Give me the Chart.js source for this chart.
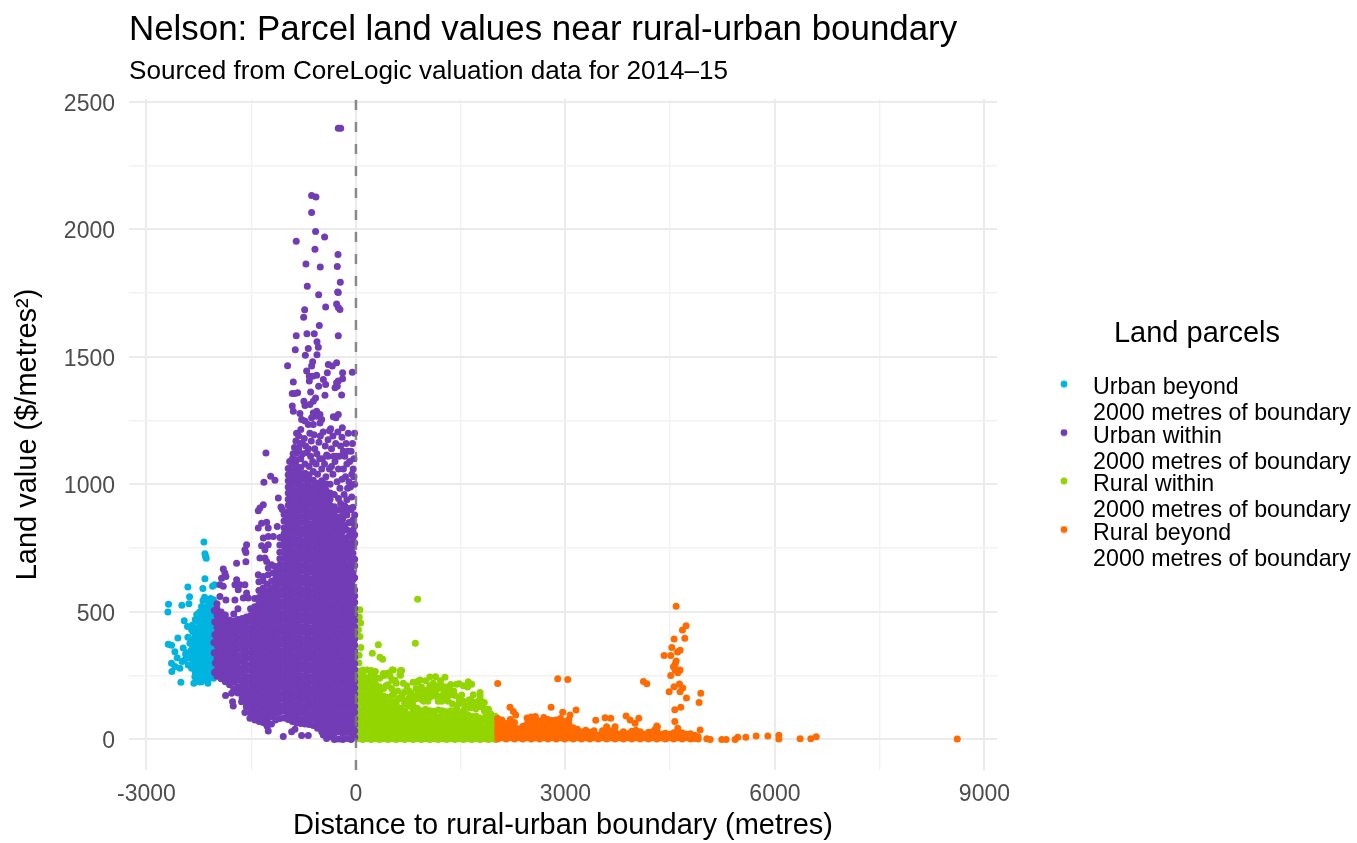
<!DOCTYPE html>
<html><head><meta charset="utf-8">
<style>html,body{margin:0;padding:0;background:#fff}canvas{display:block;filter:blur(0.6px)}</style>
<script src="https://cdn.jsdelivr.net/npm/chart.js@4"></script>
</head><body><div style="width:1357px;height:843px"><canvas id="c" width="1357" height="843"></canvas></div>
<script>
const titleText="Nelson: Parcel land values near rural-urban boundary";
const subtitleText="Sourced from CoreLogic valuation data for 2014–15";
const xTicks=[-3000,-1500,0,1500,3000,4500,6000,7500,9000];
const xLabels=[-3000,0,3000,6000,9000];
const yTicks=[0,250,500,750,1000,1250,1500,1750,2000,2250,2500];
const yLabels=[0,500,1000,1500,2000,2500];
const boundaryX=[0,0];
const boundaryY=[-120,2511];

// dense parts: [x, [values at about that x]]
const urbanBeyondColumns=[
[-2340,[300,322,346,370,392]],
[-2300,[262,286,310,334,358,382,406,430]],
[-2260,[246,270,294,318,342,366,390,414,438,462]],
[-2210,[240,262,286,310,334,358,382,406,430,454,478,502,521]],
[-2170,[250,274,298,322,346,370,394,418,442,466,490,514]],
[-2125,[233,258,282,306,330,354,378,402,426,450,474,498,522,545]],
[-2080,[244,268,292,316,340,364,388,412,436,460,484,508,532,552]],
[-2040,[240,262,286,310,334,358,382,406,430,454,478,502,526,548]]
];
const urbanBeyondPoints=[[-2177,774],[-2163,728],[-2154,718],[-2144,710],[-2163,630],[-2407,598],[-2192,592],[-2053,600],[-2025,606],[-2383,559],[-2168,557],[-2392,532],[-2493,526],[-2684,530],[-2693,500],[-2459,465],[-2412,443],[-2340,449],[-2259,469],[-2354,430],[-2550,398],[-2407,401],[-2688,373],[-2641,369],[-2593,344],[-2474,358],[-2378,377],[-2641,299],[-2593,286],[-2521,279],[-2636,266],[-2507,224],[-2321,220],[-2292,227],[-2120,220],[-2450,312],[-2402,292],[-2354,279],[-2307,246],[-2211,226],[-2420,340],[-2360,350],[-2385,320],[-2330,420],[-2300,470],[-2280,490],[-2440,335],[-2490,305],[-2560,320],[-2240,500],[-2190,545],[-2235,225]];

const urbanWithinColumns=[
[-1990,[248,272,296,320,344,368,392,416,440,464,488,512,532]],
[-1930,[238,260,284,308,332,356,380,404,428,452,476,500]],
[-1870,[226,250,272,296,320,344,368,392,416,440,464,488]],
[-1810,[214,236,260,284,308,332,356,380,404,428,450,468]],
[-1750,[198,224,248,272,296,320,344,368,392,416,440,464,492]],
[-1690,[182,206,232,256,280,304,328,352,376,400,424,448,470,512]],
[-1630,[162,186,210,234,258,282,306,330,354,378,402,426,450,474]],
[-1570,[128,152,174,198,222,246,270,294,318,342,366,390,414,438,460,480]],
[-1510,[104,128,150,174,198,222,246,270,294,318,342,366,390,414,438,462,486,512]],
[-1450,[88,112,136,160,184,208,232,256,280,304,328,352,376,400,424,448,472,496,520,552]],
[-1390,[80,102,124,148,172,196,220,244,268,292,316,340,364,388,412,436,460,484,508,532,556,584,618]],
[-1330,[66,90,114,138,162,186,210,234,258,282,306,330,354,378,402,426,450,474,498,522,546,570,594,622]],
[-1270,[52,78,102,126,150,174,198,222,246,270,294,318,342,366,390,414,438,462,486,510,534,558,582,608]],
[-1210,[60,90,114,138,162,186,210,234,258,282,306,330,354,378,402,426,450,474,498,522,546,570,594,620]],
[-1150,[76,102,126,150,174,198,222,246,270,294,318,342,366,390,414,438,462,486,510,534,558,582,606,630,654]],
[-1090,[82,108,132,156,180,204,228,252,276,300,324,348,372,396,420,444,468,492,516,540,564,588,612,636,660,684,708,734,762]],
[-1030,[84,110,134,158,182,206,230,254,278,302,326,350,374,398,422,446,470,494,518,542,566,590,614,638,662,686,710,734,758,782,806,830,856,882]],
[-970,[78,102,126,150,174,198,222,246,270,294,318,342,366,390,414,438,462,486,510,534,558,582,606,630,654,678,702,726,750,774,798,822,846,870,894,918,942,966,990,1014,1038,1062]],
[-910,[70,92,116,140,164,188,212,236,260,284,308,332,356,380,404,428,452,476,500,524,548,572,596,620,644,668,692,716,740,764,788,812,836,860,884,908,932,956,980,1004,1028,1052,1078,1100]],
[-850,[64,88,112,136,160,184,208,232,256,280,304,328,352,376,400,424,448,472,496,520,544,568,592,616,640,664,688,712,736,760,784,808,832,856,880,904,928,952,976,1000,1024,1048,1072,1096,1122]],
[-790,[62,82,106,130,154,178,202,226,250,274,298,322,346,370,394,418,442,466,490,514,538,562,586,610,634,658,682,706,730,754,778,802,826,850,874,898,922,946,970,994,1018,1042,1066,1100]],
[-730,[60,84,108,132,156,180,204,228,252,276,300,324,348,372,396,420,444,468,492,516,540,564,588,612,636,660,684,708,732,756,780,804,828,852,876,900,924,948,972,996,1020,1044,1080]],
[-670,[58,78,102,126,150,174,198,222,246,270,294,318,342,366,390,414,438,462,486,510,534,558,582,606,630,654,678,702,726,750,774,798,822,846,870,894,918,942,966,990,1014,1038,1070]],
[-610,[54,80,104,128,152,176,200,224,248,272,296,320,344,368,392,416,440,464,488,512,536,560,584,608,632,656,680,704,728,752,776,800,824,848,872,896,920,944,968,992,1016,1050]],
[-550,[44,68,92,116,140,164,188,212,236,260,284,308,332,356,380,404,428,452,476,500,524,548,572,596,620,644,668,692,716,740,764,788,812,836,860,884,908,932,956,980,1004,1040]],
[-490,[30,54,78,102,126,150,174,198,222,246,270,294,318,342,366,390,414,438,462,486,510,534,558,582,606,630,654,678,702,726,750,774,798,822,846,870,894,918,942,966,990,1014,1060]],
[-430,[20,44,66,90,114,138,162,186,210,234,258,282,306,330,354,378,402,426,450,474,498,522,546,570,594,618,642,666,690,714,738,762,786,810,834,858,882,906,930,954,978,1002,1030]],
[-370,[10,32,54,78,102,126,150,174,198,222,246,270,294,318,342,366,390,414,438,462,486,510,534,558,582,606,630,654,678,702,726,750,774,798,822,846,870,894,918,942,966,1000]],
[-310,[0,24,48,72,96,120,144,168,192,216,240,264,288,312,336,360,384,408,432,456,480,504,528,552,576,600,624,648,672,696,720,744,768,792,816,840,864,888,912,960]],
[-250,[2,30,54,78,102,126,150,174,198,222,246,270,294,318,342,366,390,414,438,462,486,510,534,558,582,606,630,654,678,702,726,750,774,798,822,846,870,900,945]],
[-190,[0,24,48,72,96,120,144,168,192,216,240,264,288,312,336,360,384,408,432,456,480,504,528,552,576,600,624,648,672,696,720,744,768,792,816,864,900]],
[-130,[4,30,54,78,102,126,150,174,198,222,246,270,294,318,342,366,390,414,438,462,486,510,534,558,582,606,630,654,678,726,750,774,822,880,940]],
[-70,[0,24,48,72,96,120,144,168,192,216,240,264,288,312,336,360,384,408,432,456,480,504,528,552,576,600,624,672,696,744,768,816,850,900]],
[-18,[8,34,58,82,106,130,154,178,202,226,250,274,298,322,346,370,394,418,442,466,490,514,538,562,586,634,682,706,770,802,838,880]],
[-220,[610,634,658,682,706,730,754,778,802,826,850,874,925]],
[-160,[596,620,644,668,692,716,740,764,790,840,885,915]],
[-100,[590,616,640,664,690,714,740,762,798,850,905]],
[-44,[560,600,626,652,694,730,756,788,820,860,910]]
];
const urbanWithinPoints=[[-253,2396],[-219,2396],[-635,2133],[-573,2127],[-635,2066],[-578,1991],[-449,1970],[-855,1953],[-587,1922],[-257,1901],[-716,1864],[-511,1852],[-267,1854],[-224,1792],[-697,1777],[-262,1754],[-253,1752],[-534,1743],[-277,1707],[-434,1695],[-253,1693],[-229,1686],[-735,1685],[-749,1655],[-525,1623],[-855,1583],[-702,1591],[-597,1591],[-253,1583],[-558,1559],[-539,1538],[-869,1528],[-683,1533],[-725,1506],[-558,1508],[-620,1481],[-979,1465],[-396,1470],[-277,1477],[-339,1464],[-635,1464],[-706,1444],[-191,1438],[-52,1440],[-410,1438],[-668,1424],[-563,1428],[-620,1424],[-467,1411],[-434,1392],[-191,1414],[-897,1401],[-668,1405],[-277,1398],[-253,1405],[-300,1379],[-267,1385],[-534,1385],[-912,1356],[-835,1359],[-874,1356],[-649,1362],[-444,1349],[-205,1350],[-578,1339],[-745,1326],[-730,1309],[-659,1313],[-611,1326],[-912,1307],[-897,1287],[-802,1278],[-611,1280],[-563,1287],[-515,1274],[-635,1261],[-563,1267],[-491,1254],[-324,1265],[-253,1274],[-286,1261],[-778,1254],[-730,1248],[-683,1235],[-611,1235],[-515,1241],[-362,1218],[-195,1222],
[-1289,1123],[-1318,1008],[-1222,1032],[-1160,1016],[-1112,947],[-1327,920],[-1399,897],[-1375,907],[-1074,911],[-1055,901],[-1127,835],[-1399,829],[-1351,848],[-1279,851],[-1256,829],[-1089,792],[-1327,790],[-1256,796],[-1184,796],[-1351,759],[-1256,763],[-1566,763],[-1590,744],[-1576,733],[-1303,744],[-1375,711],[-1303,711],[-1576,697],[-1709,691],[-1279,698],[-1208,685],[-1160,678],[-1256,672],[-1900,668],[-1877,652],[-1924,632],[-1862,639],[-1948,606],[-1900,600],[-1709,626],[-1733,606],[-1662,606],[-1590,606],[-1686,587],[-1566,574],[-1614,554],[-1542,554],[-1948,560],[-1862,547],[-1733,547],[-1399,646],[-1327,639],[-1256,646],[-1184,652],[-1112,672],
[-1867,172],[-1781,181],[-1767,148],[-1757,131],[-1638,148],[-1662,194],[-1590,105],[-1518,83],[-1447,76],[-1385,70],[-1279,57],[-1256,33],[-1041,11],[-921,30],[-874,40],[-778,15],[-683,15],[-468,17],[-420,4],
[-900,1120],[-880,1145],[-860,1170],[-850,1200],[-820,1190],[-790,1215],[-770,1160],[-740,1180],[-720,1150],[-700,1125],[-660,1200],[-640,1170],[-600,1195],[-590,1140],[-560,1120],[-530,1165],[-510,1190],[-470,1205],[-440,1150],[-420,1115],[-400,1175],[-380,1210],[-350,1140],[-330,1190],[-300,1090],[-290,1160],[-260,1205],[-240,1110],[-220,1150],[-200,1185],[-180,1060],[-160,1110],[-140,1160],[-110,1200],[-90,1090],[-70,1130],[-40,1060],[-30,1100],[-20,1200],[-330,1040],[-270,1010],[-230,985],[-120,985],[-60,950],[-20,1000],[-950,1090],[-620,1090],[-480,1100],[-380,1060],
[-100,1010],[-60,1040],[-150,1030],[-200,1020],[-250,1060],[-130,1080],[-30,1030],[-170,960],[-80,990],[-50,1160],[-180,1130],[-120,1130],[-280,1110],[-320,1110],[-350,1070],[-400,1110],[-450,1080],[-520,1100],[-570,1080],[-650,1110],[-680,1140],[-760,1120],[-820,1140],[-800,1160],
[-2025,262],[-2030,340],[-2020,410],[-2028,505],[-2015,300],[-2022,460],[-2034,380]
];

const ruralWithinColumns=[
[38,[4,26,50,74,98,122,146,170,194,218,242,268]],
[98,[0,16,40,64,88,112,136,160,184,208,232,256,272]],
[158,[3,26,50,74,98,122,146,170,194,218,242,272]],
[218,[0,16,40,64,88,112,136,160,184,208,232,254,270]],
[278,[3,26,50,74,98,122,146,170,194,218,244,266]],
[338,[0,16,40,64,88,112,136,160,184,206,240]],
[398,[3,26,50,74,98,122,146,170,200,250]],
[458,[0,16,40,64,88,112,136,164,214,260]],
[518,[3,26,50,74,98,122,146,172,232,272]],
[578,[0,16,40,64,88,112,136,150,220]],
[638,[3,26,50,74,98,122,160,252,270]],
[698,[0,16,40,64,88,112,140,186]],
[758,[3,26,50,74,98,130,162]],
[818,[0,16,40,64,88,112,135,224]],
[878,[3,26,50,74,98,122,160,226]],
[938,[0,16,40,64,88,112,180,205]],
[998,[3,26,50,74,98,118,170,192]],
[1058,[0,16,40,64,88,112,165,210,245]],
[1118,[3,26,50,74,98,110,190,205]],
[1178,[0,16,40,64,88,115,150,200]],
[1238,[3,26,50,74,98,112,172,208]],
[1298,[0,16,40,64,88,108,165,185]],
[1358,[3,26,50,74,98,112,215]],
[1418,[0,16,40,64,88,110,172]],
[1478,[3,26,50,74,100,160,218]],
[1538,[0,16,40,64,88,112,150,210]],
[1598,[3,26,50,74,98,130,205]],
[1658,[0,16,40,64,90,125,150]],
[1718,[3,26,50,74,92,120]],
[1778,[0,16,40,64,84,128,170]],
[1838,[3,26,50,76,112,145]],
[1898,[0,16,40,66,80,118]],
[1958,[3,26,50,64,85]],
[1998,[0,16,38,56,80]]
];
const ruralWithinPoints=[[883,550],[850,377],[320,371],[234,338],[344,322],[382,314],[57,508],[67,456],[57,403],[48,480],[35,430],[70,360],[45,330],[42,300],[535,272],[654,270],[630,253],[392,258],[490,248],[558,232],[917,233],[888,227],[893,188],[1141,246],[1108,220],[1275,244],[1060,205],[1183,208],[1299,205],[1347,174],[1442,216],[1609,226],[1657,216],[1514,174],[1777,184],[1791,152],[1624,155],[1442,122],[1729,129],[1839,119],[1060,174],[1156,174],[774,155],[821,155],[945,155],[678,220],[702,187],
[430,210],[470,150],[510,200],[540,180],[600,190],[610,160],[660,170],[700,150],[730,210],[760,190],[790,180],[830,170],[860,200],[910,175],[970,150],[1000,230],[1030,150],[1090,190],[1130,170],[1200,165],[1210,230],[1230,150],[1260,190],[1320,150],[1340,200],[1380,140],[1400,190],[1470,140],[1500,150],[1560,130],[1620,125],[1680,175],[1700,140],[1750,150],[1810,130],[1860,100],[1930,100],[2000,90]];

const ruralBeyondColumns=[
[2030,[2,18,34,50,66,82]],[2090,[6,24,42,58,76]],[2150,[2,18,34,52,62]],[2210,[6,24,40,58,78]],[2270,[2,18,34,48,66]],[2330,[6,24,42]],[2390,[2,18,36,52]],[2450,[6,24,42,60,84]],[2510,[2,18,34,52,70,88]],[2570,[6,24,42,60,78,90]],[2630,[2,18,36,54,72]],[2690,[6,24,40,58,86]],[2750,[2,18,34,50,68,78]],[2810,[6,24,42,60,74]],[2870,[2,18,36,52,76]],[2930,[6,24,42,58,82]],[2990,[2,18,34,50,70]],[3050,[6,24,40,60,78]],[3110,[2,18,34,46]],[3170,[6,22,40]],[3230,[2,16,30]],[3290,[6,22,36]],[3350,[2,16,28]],[3410,[6,22,34]],[3470,[2,16]],[3530,[6,22,34]],[3590,[2,16,28,50]],[3650,[6,22,34]],[3710,[2,16,30]],[3770,[6,20]],[3830,[2,16,30]],[3890,[6,22]],[3950,[2,16,32]],[4010,[6,22,36]],[4070,[2,16,30]],[4130,[6,20]],[4190,[2,16,28]],[4250,[6,22,30]],[4310,[2,16,30]],[4370,[6,20]],[4430,[2,16,24]],[4490,[6,20]],[4550,[2,16,26]],[4610,[6,20]],[4670,[2,18,26]],[4730,[6,20]],[4790,[2,14,22]],[4850,[4,16]],[4900,[2,10]]
];
const ruralBeyondPoints=[[2030,219],[2890,238],[3033,235],[4117,227],[4165,218],[2794,126],[2206,126],[2254,109],[2288,96],[2961,106],[3152,115],[3066,96],[3434,75],[3568,85],[3649,83],[3869,92],[3926,76],[3997,63],[4050,83],[3711,50],[4308,53],[4585,522],[4728,446],[4676,429],[4556,394],[4709,397],[4523,360],[4642,350],[4604,343],[4413,329],[4508,329],[4585,307],[4570,295],[4547,285],[4642,272],[4609,261],[4570,272],[4508,251],[4633,217],[4680,202],[4556,206],[4642,187],[4485,187],[4938,181],[4733,162],[4914,145],[4652,126],[4566,116],[4566,70],[4609,44],[4929,37],[4317,49],[4284,39],[5024,3],[5072,0],[5239,0],[5301,0],[5430,0],[5468,8],[5583,8],[5731,13],[5898,13],[6056,16],[6056,2],[6361,3],[6514,3],[6591,10],[8611,2]];

const seriesLabels=[["Urban beyond","2000 metres of boundary"],["Urban within","2000 metres of boundary"],["Rural within","2000 metres of boundary"],["Rural beyond","2000 metres of boundary"]];
const seriesColors=["#00B4E0","#713CB5","#93D500","#FF6B00"];

function toData(columns,points){
  const out=[];
  columns.forEach(c=>c[1].forEach(v=>out.push({x:c[0],y:v})));
  points.forEach(p=>out.push({x:p[0],y:p[1]}));
  return out;
}
const FONT='"Liberation Sans", Arial, sans-serif';
const mkSet=(i,cols,pts,order)=>({type:'scatter',label:seriesLabels[i],data:toData(cols,pts),backgroundColor:seriesColors[i],borderColor:seriesColors[i],borderWidth:0,pointRadius:3.5,pointHoverRadius:3.5,pointBorderWidth:0,pointStyle:'circle',order});

// small legend key: dot sits a little above the first text line
function legendDot(color){
  const k=document.createElement('canvas');k.width=8;k.height=16;
  const g=k.getContext('2d');g.fillStyle=color;g.beginPath();g.arc(4,4,3.4,0,Math.PI*2);g.fill();
  return k;
}
const legendPlace={id:'legendPlace',afterLayout(chart){
  const L=chart.legend;
  L.left=1050;L.width=294;L.right=1357;L.top=316;L.bottom=600;L.height=284;
  L.adjustHitBoxes();
}};

new Chart(document.getElementById('c'),{
  data:{datasets:[
    mkSet(0,urbanBeyondColumns,urbanBeyondPoints,2),
    mkSet(1,urbanWithinColumns,urbanWithinPoints,1),
    mkSet(2,ruralWithinColumns,ruralWithinPoints,3),
    mkSet(3,ruralBeyondColumns,ruralBeyondPoints,2),
    {type:'scatter',label:'Boundary',showLine:true,data:boundaryX.map((x,i)=>({x,y:boundaryY[i]})),borderColor:'rgba(120,120,120,0.85)',borderWidth:2.5,borderDash:[10,12],pointRadius:0,order:0}
  ]},
  options:{
    responsive:false,animation:false,
    layout:{autoPadding:false,padding:{left:0,right:360,top:0,bottom:0}},
    scales:{
      x:{type:'linear',min:-3250,max:9180,
        afterFit(s){s.height=73},
        afterBuildTicks(s){s.ticks=xTicks.map(v=>({value:v}))},
        border:{display:false},
        grid:{drawTicks:false,color:c=>xLabels.includes(c.tick.value)?'#ebebeb':'#f2f2f2',lineWidth:c=>xLabels.includes(c.tick.value)?2:1.4},
        ticks:{autoSkip:false,maxRotation:0,padding:10.5,color:'#4d4d4d',font:{family:FONT,size:23},callback:v=>xLabels.includes(v)?String(v):''},
        title:{display:true,text:'Distance to rural-urban boundary (metres)',color:'#000',font:{family:FONT,size:29},padding:{top:0,bottom:0}}
      },
      y:{type:'linear',min:-120,max:2511,
        afterFit(s){s.width=129},
        afterBuildTicks(s){s.ticks=yTicks.map(v=>({value:v}))},
        border:{display:false},
        grid:{drawTicks:false,color:c=>yLabels.includes(c.tick.value)?'#ebebeb':'#f2f2f2',lineWidth:c=>yLabels.includes(c.tick.value)?2:1.4},
        ticks:{autoSkip:false,padding:14,labelOffset:2.5,color:'#4d4d4d',font:{family:FONT,size:23},callback:v=>yLabels.includes(v)?String(v):''},
        title:{display:true,text:'Land value ($/metres²)',color:'#000',font:{family:FONT,size:29},padding:{top:10.6,bottom:0}}
      }
    },
    plugins:{
      tooltip:{enabled:false},
      title:{display:true,fullSize:false,text:titleText,align:'start',color:'#000',font:{family:FONT,size:34.9,weight:'normal'},padding:{top:9,bottom:5.4}},
      subtitle:{display:true,fullSize:false,text:subtitleText,align:'start',color:'#000',font:{family:FONT,size:26.1,weight:'normal'},padding:{top:0,bottom:11.4}},
      legend:{display:true,position:'chartArea',align:'start',
        title:{display:true,text:'Land parcels',color:'#000',font:{family:FONT,size:29},position:'center',padding:{top:3.5,bottom:25.7}},
        labels:{usePointStyle:true,boxWidth:35,pointStyleWidth:35,color:'#000',padding:-3.5,font:{family:FONT,size:23.2,lineHeight:1.12},
          generateLabels(chart){
            return Chart.defaults.plugins.legend.labels.generateLabels(chart).map(it=>{it.pointStyle=legendDot(seriesColors[it.datasetIndex]||'#000');return it;});
          },
          filter:i=>i.datasetIndex!==4,sort:(a,b)=>a.datasetIndex-b.datasetIndex}
      }
    }
  },
  plugins:[legendPlace]
});
</script></body></html>
